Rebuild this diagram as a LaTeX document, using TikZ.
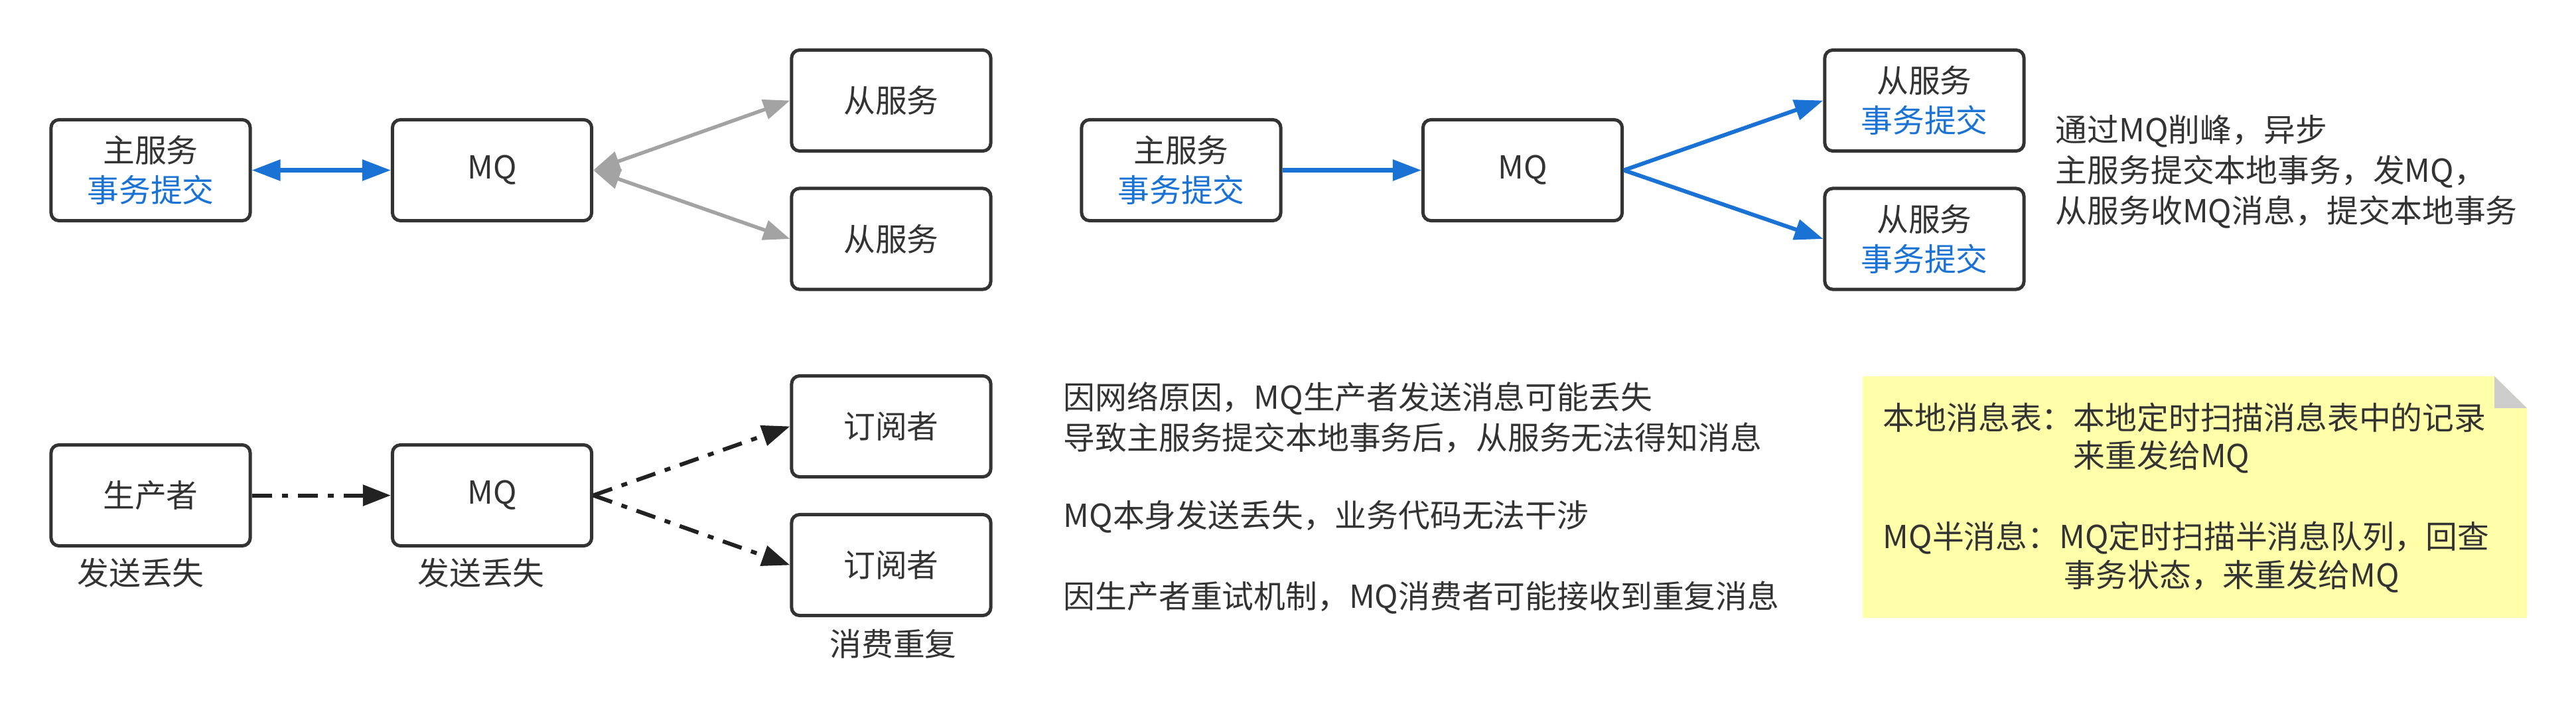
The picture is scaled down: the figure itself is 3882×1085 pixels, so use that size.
\documentclass[tikz,border=0pt]{standalone}
\usepackage{fontspec}
\setmainfont{Noto Sans CJK SC}
\usetikzlibrary{arrows.meta}
\definecolor{txt}{HTML}{333333}
\definecolor{bl}{HTML}{1A73D4}
\definecolor{gr}{HTML}{A3A3A3}
\definecolor{dk}{HTML}{222222}
\definecolor{noteY}{HTML}{FFFFAA}
\definecolor{noteG}{HTML}{CCCCCC}
\newcommand\dfont{\fontsize{13.6pt}{17pt}\selectfont}
\begin{document}
\begin{tikzpicture}[x=0.01cm,y=-0.01cm,
  box/.style={draw=txt, line width=0.05cm, rounded corners=0.12cm, fill=white,
    minimum width=3cm, minimum height=1.52cm, inner sep=0pt, align=center,
    text=txt, font=\dfont},
  lbl/.style={inner sep=0pt, text=txt, font=\dfont, align=left},
  tip/.style={Triangle[length=0.43cm, width=0.31cm]},
  bluearrow/.style={draw=bl, line width=0.06cm, -{Triangle[length=0.43cm, width=0.31cm]}},
  bluedouble/.style={draw=bl, line width=0.06cm, {Triangle[length=0.43cm, width=0.31cm]}-{Triangle[length=0.43cm, width=0.31cm]}},
  grayarrow/.style={draw=gr, line width=0.055cm, {Triangle[length=0.40cm, width=0.30cm]}-{Triangle[length=0.40cm, width=0.30cm]}},
  dasharrow/.style={draw=dk, line width=0.06cm, dash pattern=on 0.30cm off 0.15cm on 0.09cm off 0.15cm,
    -{Triangle[length=0.42cm, width=0.31cm]}}
]
\useasboundingbox (0,0) rectangle (3882,1085);

% ---------- top left ----------
\node[box] (a1) at (227,256.5) {主服务\\\textcolor{bl}{事务提交}};
\node[box] (m1) at (741.5,256.5) {MQ};
\node[box] (s1) at (1343,151.5) {从服务};
\node[box] (s2) at (1343,360) {从服务};
\draw[bluedouble] (a1.east) -- (m1.west);
\draw[grayarrow] (m1.east) -- (s1.west);
\draw[grayarrow] (m1.east) -- (s2.west);

% ---------- top right ----------
\node[box] (a2) at (1780,256.5) {主服务\\\textcolor{bl}{事务提交}};
\node[box] (m2) at (2294.5,256.5) {MQ};
\node[box] (s3) at (2900,151.5) {从服务\\\textcolor{bl}{事务提交}};
\node[box] (s4) at (2900,360) {从服务\\\textcolor{bl}{事务提交}};
\draw[bluearrow] (a2.east) -- (m2.west);
\draw[bluearrow] (m2.east) -- (s3.west);
\draw[bluearrow] (m2.east) -- (s4.west);
\node[lbl, anchor=west, font=\fontsize{13.6pt}{17.4pt}\selectfont] (tr) at (3097,259)
  {通过MQ削峰，异步\\主服务提交本地事务，发MQ，\\从服务收MQ消息，提交本地事务};

% ---------- bottom left ----------
\node[box] (p) at (227,746.5) {生产者};
\node[box] (m3) at (741.5,746.5) {MQ};
\node[box] (t1) at (1343,642.5) {订阅者};
\node[box] (t2) at (1343,851.5) {订阅者};
\draw[dasharrow] (p.east) -- (m3.west);
\draw[dasharrow] (m3.east) -- (t1.west);
\draw[dasharrow] (m3.east) -- (t2.west);
\node[lbl] (l1) at (212,863) {发送丢失};
\node[lbl] (l2) at (725,863) {发送丢失};
\node[lbl] (l3) at (1346,970) {消费重复};

% ---------- bottom middle text ----------
\node[lbl, anchor=west, font=\fontsize{13.6pt}{17.2pt}\selectfont] (b1) at (1602,629)
  {因网络原因，MQ生产者发送消息可能丢失\\导致主服务提交本地事务后，从服务无法得知消息};
\node[lbl, anchor=west] (b2) at (1602,779) {MQ本身发送丢失，业务代码无法干涉};
\node[lbl, anchor=west] (b3) at (1602,901) {因生产者重试机制，MQ消费者可能接收到重复消息};

% ---------- note ----------
\fill[noteY] (2807,567) -- (3759,567) -- (3808,615) -- (3808,931) -- (2807,931) -- cycle;
\fill[noteG] (3759,567) -- (3759,615) -- (3808,615) -- cycle;
\node[lbl, anchor=west] (n1) at (2837,629) {本地消息表：本地定时扫描消息表中的记录};
\node[lbl, anchor=west] (n2) at (3124,689) {来重发给MQ};
\node[lbl, anchor=west] (n3) at (2837,811) {MQ半消息：MQ定时扫描半消息队列，回查};
\node[lbl, anchor=west] (n4) at (3110,869) {事务状态，来重发给MQ};
\end{tikzpicture}
\end{document}
